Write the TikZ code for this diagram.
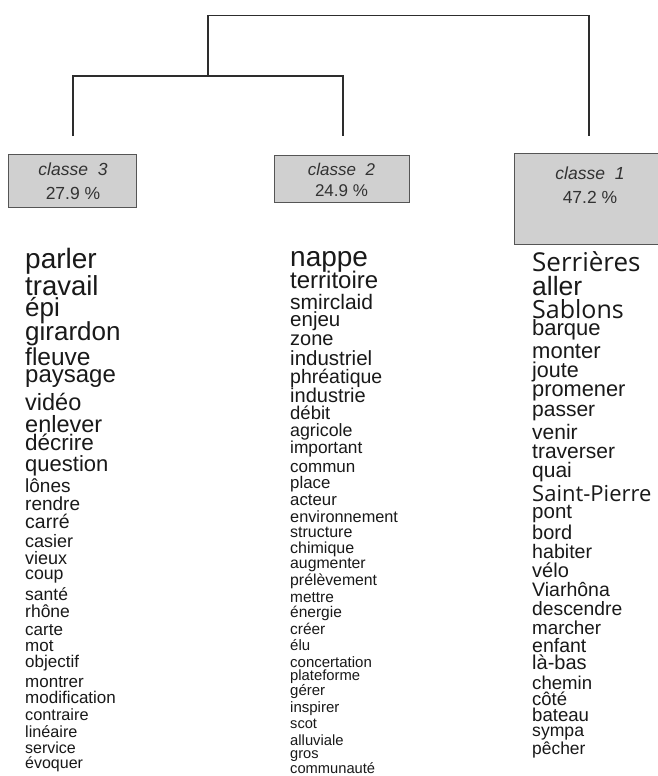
\documentclass[tikz,border=0pt]{standalone}
\usepackage{fontspec}
\setmainfont{Liberation Sans}
\newfontfamily\ffa{Liberation Sans}
\newfontfamily\ffo{Open Sans}
\newcommand\fsz[1]{\fontsize{#1pt}{#1pt}\selectfont}
\newcommand\fszb[2]{\fontsize{#1pt}{#2pt}\selectfont}
\definecolor{boxfill}{RGB}{208,208,208}
\definecolor{boxedge}{RGB}{85,85,85}
\definecolor{ink}{RGB}{25,25,25}
\definecolor{boxink}{RGB}{50,50,50}
\definecolor{treeline}{RGB}{45,45,45}
\tikzset{
  tree/.style={draw=treeline, line width=1.1pt},
  cbox/.style={draw=boxedge, fill=boxfill, line width=1pt, rectangle, inner sep=0pt},
  ctext/.style={align=center, text=boxink, inner sep=0pt},
  word/.style={anchor=base west, inner sep=0pt, text=ink},
}
\begin{document}
\begin{tikzpicture}[x=1pt,y=-1pt]
\useasboundingbox (0,0) rectangle (658,776);
\clip (0,0) rectangle (658,776);
\fill[white] (0,0) rectangle (658,776);

% dendrogram
\coordinate (l3) at (73,136);
\coordinate (l2) at (343,136);
\coordinate (l1) at (589,136);
\coordinate (m32) at (208,76);
\coordinate (rt) at (208,15.7);
\draw[tree] (l3) |- (m32) -| (l2);
\draw[tree] (m32) |- (rt) -| (l1);

% class boxes
\node[cbox, minimum width=128pt, minimum height=53pt] (b3) at (72,180.5) {};
\node[ctext, font=\fszb{17.5}{24}] (t3) at (73,181) {\textit{classe\ \ 3}\\27.9 \%};
\node[cbox, minimum width=135pt, minimum height=47pt] (b2) at (341.5,178.5) {};
\node[ctext, font=\fszb{17}{21}] (t2) at (341.5,180) {\textit{classe\ \ 2}\\24.9 \%};
\node[cbox, minimum width=152pt, minimum height=91pt] (b1) at (590,198.5) {};
\node[ctext, font=\fszb{17.5}{24}] (t1) at (590,185) {\textit{classe\ \ 1}\\47.2 \%};

% classe 3 words
\foreach \w/\y/\s [count=\i] in {parler/268/28, travail/295/27.5, épi/316/26,
  girardon/340/26, fleuve/365/24.5, paysage/382/24, vidéo/410/23.5,
  enlever/432/23.5, décrire/450/22.5, question/471/22, lônes/492/19,
  rendre/510/19, carré/528/19.5, casier/547/18, vieux/564/18, coup/579/17.7,
  santé/600/17.5, rhône/617/17.5, carte/635/17, mot/651/17, objectif/667/17,
  montrer/687/17, modification/703/17, contraire/720/16.3, linéaire/737/16.2,
  service/753/16, évoquer/768/16}
  {\node[word, font=\ffa\fsz{\s}] (cC\i) at (25,\y) {\w};}

% classe 2 words
\foreach \w/\y/\s [count=\i] in {nappe/266/28, territoire/288/24,
  smirclaid/309/21, enjeu/326/20.5, zone/345/20, industriel/365/20.5,
  phréatique/383/19.5, industrie/402/20, débit/419/18.5, agricole/436/17.8,
  important/453/17.3, commun/472/17, place/488/16.8, acteur/505/16.8,
  environnement/522/16.3, structure/537/16, chimique/553/16,
  augmenter/568/15.8, prélèvement/585/15.8, mettre/602/15.4,
  énergie/617/15.5, créer/634/15.4, élu/650/15, concertation/667/15,
  plateforme/680/14.8, gérer/695/15, inspirer/712/15, scot/728/14.6,
  alluviale/745/14.8, gros/758/14.6, communauté/773/14.7}
  {\node[word, font=\ffa\fsz{\s}] (cB\i) at (290,\y) {\w};}

% classe 1 words
\foreach \w/\y/\s/\fn [count=\i] in {Serrières/271/26/o, aller/295/26.5/a,
  Sablons/318/25/o, barque/335/22/a, monter/358/22/a, joute/377/21.5/a,
  promener/396/21.8/a, passer/416/21/a, venir/439/21/a, traverser/458/21/a,
  quai/477/21/a, Saint-Pierre/501/22/o, pont/518/20.5/a, bord/539/20/a,
  habiter/558/19.6/a, vélo/577/20/a, Viarhôna/596/19.5/a,
  descendre/615/19.3/a, marcher/634/18.8/a, enfant/652/19.5/a,
  là-bas/669/20/a, chemin/689/18.6/a, côté/705/18.5/a, bateau/721/18.6/a,
  sympa/736/17.6/a, pêcher/754/17.4/a}
  {\node[word, font=\csname ff\fn\endcsname\fsz{\s}] (cA\i) at (532,\y) {\w};}
\end{tikzpicture}
\end{document}
